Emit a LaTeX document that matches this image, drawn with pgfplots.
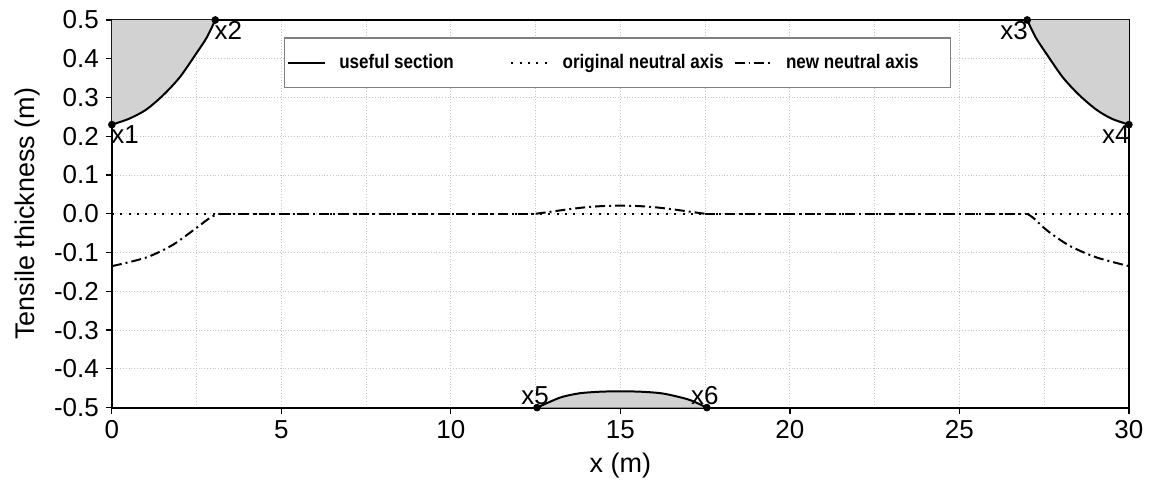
\documentclass[border=0pt]{standalone}
\usepackage{fontspec}
\setmainfont{Liberation Sans}
\newfontfamily\legfont[FakeStretch=0.87]{Liberation Sans}
\usepackage{pgfplots}
\pgfplotsset{compat=1.18}
\usepgfplotslibrary{fillbetween}
\definecolor{areagray}{RGB}{210,210,210}
\begin{document}
\begin{tikzpicture}
\begin{axis}[
    scale only axis,
    width=509pt, height=194pt,
    xmin=0, xmax=30, ymin=-0.5, ymax=0.5,
    xtick={0,5,10,15,20,25,30},
    minor xtick={2.5,7.5,12.5,17.5,22.5,27.5},
    ytick={-0.5,-0.4,-0.3,-0.2,-0.1,0,0.1,0.2,0.3,0.4,0.5},
    grid=both,
    major grid style={densely dotted, gray!45, line width=0.5pt},
    minor grid style={densely dotted, gray!45, line width=0.5pt},
    minor tick length=0pt,
    major tick length=3pt,
    tick align=outside,
    xtick pos=bottom, ytick pos=left,
    axis line style={black, line width=1pt},
    tick style={black, line width=0.6pt},
    tick label style={font=\fontsize{13}{15}\selectfont},
    label style={font=\fontsize{13.5}{16}\selectfont},
    /pgf/number format/assume math mode=true,
    yticklabel style={/pgf/number format/.cd, fixed, fixed zerofill, precision=1},
    xlabel={x (m)},
    ylabel={Tensile thickness (m)},
    clip=false,
    legend columns=3,
    legend cell align=left,
    legend image code/.code={\draw[#1] (0cm,0cm) -- (0.66cm,0cm);},
    legend style={at={(rel axis cs:0.4975,0.89)}, anchor=center,
        draw=gray, line width=0.6pt, inner ysep=6pt, inner xsep=1pt,
        font=\legfont\bfseries\fontsize{9.8}{11}\selectfont},
]
% boundary curves of the useful section
\addplot[black, line width=1pt, smooth, forget plot, name path=tl] coordinates {
    (0,0.23) (0.5,0.245) (1,0.268) (1.5,0.305) (2,0.352) (2.5,0.415) (2.8,0.455) (3.05,0.5)};
\addplot[draw=none, forget plot, name path=tlc] coordinates {(0,0.5) (3.05,0.5)};
\addplot[black, line width=1pt, smooth, forget plot, name path=tr] coordinates {
    (27,0.5) (27.25,0.455) (27.55,0.415) (28.05,0.352) (28.55,0.305) (29.05,0.268) (29.5,0.245) (30,0.23)};
\addplot[draw=none, forget plot, name path=trc] coordinates {(27,0.5) (30,0.5)};
\addplot[black, line width=1pt, smooth, forget plot, name path=bm] coordinates {
    (12.54,-0.5) (13,-0.482) (13.3,-0.472) (13.8,-0.463) (14.4,-0.459) (15,-0.458)
    (15.6,-0.459) (16.2,-0.463) (16.7,-0.472) (17.1,-0.482) (17.55,-0.5)};
\addplot[draw=none, forget plot, name path=bmc] coordinates {(12.54,-0.5) (17.55,-0.5)};

% shaded regions
\addplot[fill=areagray, draw=none, forget plot] fill between[of=tl and tlc];
\addplot[fill=areagray, draw=none, forget plot] fill between[of=tr and trc];
\addplot[fill=areagray, draw=none, forget plot] fill between[of=bm and bmc];

% useful section
\addplot[black, line width=1pt] coordinates {(3.05,0.5) (27,0.5)};
\addlegendentry{\makebox[88pt][l]{\hspace{4.5pt}useful section}}

% original neutral axis
\addplot[black, line width=1pt, dash pattern=on 1pt off 3.2pt] coordinates {(0,0) (30,0)};
\addlegendentry{\makebox[88pt][l]{\hspace{4.5pt}original neutral axis}}

% new neutral axis
\addplot[black, line width=1pt, dash pattern=on 5pt off 2pt on 1pt off 2pt, smooth] coordinates {
    (0,-0.135) (0.5,-0.125) (1.1,-0.11) (1.8,-0.08) (2.5,-0.036) (2.9,-0.01) (3.15,0)};
\addlegendentry{\makebox[84pt][l]{\hspace{4.5pt}new neutral axis}}
\addplot[black, line width=1pt, dash pattern=on 5pt off 2pt on 1pt off 2pt, forget plot] coordinates {
    (3.15,0) (12.5,0)};
\addplot[black, line width=1pt, dash pattern=on 5pt off 2pt on 1pt off 2pt, smooth, forget plot] coordinates {
    (12.5,0) (13,0.006) (13.5,0.012) (14,0.017) (14.5,0.02) (15,0.021) (15.5,0.02)
    (16,0.017) (16.5,0.012) (17,0.006) (17.5,0)};
\addplot[black, line width=1pt, dash pattern=on 5pt off 2pt on 1pt off 2pt, forget plot] coordinates {
    (17.5,0) (27.0,0)};
\addplot[black, line width=1pt, dash pattern=on 5pt off 2pt on 1pt off 2pt, smooth, forget plot] coordinates {
    (27.0,0) (27.2,-0.012) (27.6,-0.044) (28.26,-0.083) (29.06,-0.113) (30,-0.135)};

% useful section, bottom
\addplot[black, line width=1pt, forget plot] coordinates {(0,-0.5) (12.54,-0.5)};
\addplot[black, line width=1pt, forget plot] coordinates {(17.55,-0.5) (30,-0.5)};

% section points
\addplot[only marks, mark=*, mark size=1.7pt, black, forget plot,
    point meta=explicit symbolic, nodes near coords,
    nodes near coords style={anchor=north west, inner sep=0.5pt, xshift=-1pt,
        font=\fontsize{13}{15}\selectfont}]
    coordinates {(0,0.23) [x1] (3.05,0.5) [x2]};
\addplot[only marks, mark=*, mark size=1.7pt, black, forget plot,
    point meta=explicit symbolic, nodes near coords,
    nodes near coords style={anchor=north east, inner sep=0.5pt, xshift=1pt,
        font=\fontsize{13}{15}\selectfont}]
    coordinates {(27,0.5) [x3] (30,0.23) [x4]};
\addplot[only marks, mark=*, mark size=1.7pt, black, forget plot,
    point meta=explicit symbolic, nodes near coords,
    nodes near coords style={anchor=south, inner sep=1pt, xshift=-1pt,
        font=\fontsize{13}{15}\selectfont}]
    coordinates {(12.54,-0.5) [x5] (17.55,-0.5) [x6]};
\end{axis}
\path ([shift={(-56pt,-39pt)}]current axis.south west)
    rectangle ([shift={(10pt,10pt)}]current axis.north east);
\end{tikzpicture}
\end{document}
